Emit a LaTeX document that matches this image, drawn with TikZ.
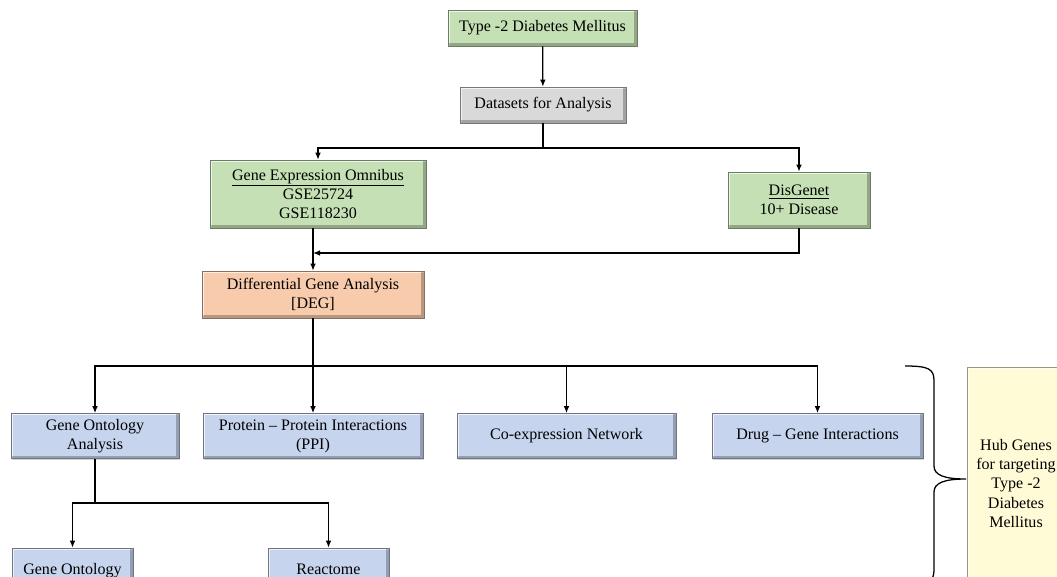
\documentclass[tikz,border=0pt]{standalone}
\usepackage{fontspec}
\setmainfont{Liberation Serif}
\usetikzlibrary{arrows.meta,shadows,positioning}
\definecolor{geogreen}{RGB}{197,224,180}
\definecolor{datagrey}{RGB}{217,217,217}
\definecolor{degpeach}{RGB}{248,203,173}
\definecolor{toolblue}{RGB}{198,212,238}
\definecolor{hubyellow}{RGB}{255,251,214}
\tikzset{
	block/.style={
		rectangle,
		line width=0.4pt,
		align=center,
		inner sep=2pt,
		font=\fontsize{11.4}{13.6}\selectfont,
		drop shadow={shadow xshift=0.9pt,shadow yshift=-0.9pt,opacity=0.35},
		path picture={
			\draw[white,opacity=0.7,line width=2.4pt]
				(path picture bounding box.south west) --
				(path picture bounding box.north west) --
				(path picture bounding box.north east);
			\draw[black,opacity=0.25,line width=4pt]
				(path picture bounding box.north east) --
				(path picture bounding box.south east) --
				(path picture bounding box.south west);
		},
	},
	greenbox/.style={
		block,
		fill=geogreen,
		draw=geogreen!55!black,
	},
	greybox/.style={
		block,
		fill=datagrey,
		draw=datagrey!55!black,
	},
	degbox/.style={
		block,
		fill=degpeach,
		draw=degpeach!55!black,
	},
	bluebox/.style={
		block,
		fill=toolblue,
		draw=toolblue!55!black,
		minimum height=1.125cm,
	},
	hubbox/.style={
		block,
		fill=hubyellow,
		draw=hubyellow!60!black,
	},
	link/.style={
		-{Latex[length=5pt,width=4pt]},
		line width=0.9pt,
	},
	line/.style={
		line width=0.9pt,
	},
	hubbrace/.style={
		line width=0.9pt,
	},
}
\begin{document}
\begin{tikzpicture}[x=0.025cm,y=-0.025cm]
	\useasboundingbox (0,0) rectangle (1057,577);
	\clip (0,0) rectangle (1057,577);

	% top of the flow
	\node [
	  greenbox,
	  minimum width=4.725cm,
	  minimum height=0.9cm,
	] (t2dm) at (542.5,28) {Type -2 Diabetes Mellitus};

	\node [
	  greybox,
	  minimum width=4.15cm,
	  minimum height=0.9cm,
	] (data) at (543,105) {Datasets for Analysis};

	% data sources
	\node [
	  greenbox,
	  minimum width=5.4cm,
	  minimum height=1.7cm,
	] (geo) at (318,194) {\underline{Gene Expression Omnibus}\\GSE25724\\GSE118230};

	\node [
	  greenbox,
	  minimum width=3.55cm,
	  minimum height=1.4cm,
	] (dis) at (799,200) {\underline{DisGenet}\\10+ Disease};

	\node [
	  degbox,
	  minimum width=5.55cm,
	  minimum height=1.175cm,
	] (deg) at (313,294.5) {Differential Gene Analysis\\{[DEG]}};

	% analyses
	\node [bluebox, minimum width=4.2cm] (goa) at (95,436) {Gene Ontology\\Analysis};
	\node [bluebox, minimum width=5.5cm] (ppi) at (313,436) {Protein -- Protein Interactions\\(PPI)};
	\node [bluebox, minimum width=5.475cm] (coex) at (566.5,436) {Co-expression Network};
	\node [bluebox, minimum width=5.275cm] (drug) at (817.5,436) {Drug -- Gene Interactions};

	\node [
	  bluebox,
	  minimum width=3.025cm,
	  minimum height=1.2cm,
	  text depth=1.2cm-30pt,
	] (gont) at (72.5,572) {Gene Ontology};
	\node [
	  bluebox,
	  minimum width=3.025cm,
	  minimum height=1.2cm,
	  text depth=1.2cm-30pt,
	] (reac) at (328.5,572) {Reactome};

	\node [
	  hubbox,
	  minimum width=2.45cm,
	  minimum height=5.825cm,
	] (hub) at (1016,483.5) {Hub Genes\\for targeting\\Type -2\\Diabetes\\Mellitus};

	\coordinate (split1) at (543,148);
	\coordinate (merge) at (313,253);
	\coordinate (split2) at (313,366);
	\coordinate (split3) at (95,503);
	\coordinate (bracetop) at (905,366);
	\coordinate (bracetip) at (966,479);
	\coordinate (bracebot) at (905,584);

	\draw[link] (t2dm) -- (data);
	\draw[line] (data) -- (split1);
	\draw[link] (split1) -| (geo);
	\draw[link] (split1) -| (dis);
	\draw[link] (geo.south -| deg.north) -- (deg);
	\draw[link] (dis) |- (merge);

	\draw[line] (deg) -- (split2);
	\foreach \n in {goa,ppi,coex,drug}
		\draw[link] (split2) -| (\n);

	\draw[line] (goa) -- (split3);
	\draw[link] (split3) -| (gont);
	\draw[link] (split3) -| (reac);

	% curly brace towards the hub genes
	\draw[hubbrace] (bracetop)
		.. controls (929,366) and (934,369) .. (934,381)
		-- (934,466)
		.. controls (934,475) and (944,479) .. (bracetip)
		.. controls (944,479) and (934,483) .. (934,492)
		-- (934,570)
		.. controls (934,581) and (929,584) .. (bracebot);
\end{tikzpicture}
\end{document}
